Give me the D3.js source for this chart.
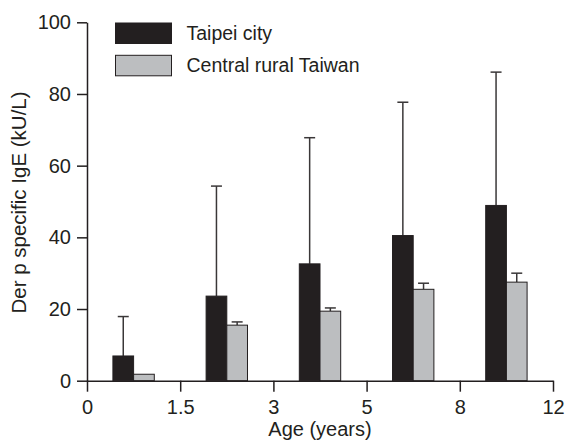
<!DOCTYPE html>
<html><head><meta charset="utf-8">
<script src="https://cdn.jsdelivr.net/npm/d3@7"></script>
<style>
body{margin:0;background:#fff;}
svg{display:block;}
text{font-family:"Liberation Sans",Arial,Helvetica,sans-serif;fill:#231f20;}
</style></head>
<body>
<svg id="chart" width="565" height="442"></svg>
<script>
const ageGroups = ["0-1.5","1.5-3","3-5","5-8","8-12"];
const tickLabels = ["0","1.5","3","5","8","12"];
const seriesNames = ["Taipei city","Central rural Taiwan"];
const taipeiMean = [6.9, 23.6, 32.6, 40.5, 48.9];
const taipeiUpper = [17.9, 54.3, 67.8, 77.7, 86.1];
const ruralMean = [1.8, 15.5, 19.4, 25.5, 27.5];
const ruralUpper = [1.8, 16.4, 20.3, 27.2, 30.0];
const yTicks = [0,20,40,60,80,100];

(function(){
const ink = "#231f20";
const colors = ["#231f20","#bcbec0"];

const svg = d3.select("#chart");
const pLeft = 87, pRight = 553, pTop = 22.3, pBottom = 380.7;

const y = d3.scaleLinear().domain([0,100]).range([pBottom, pTop]);
const xBand = d3.scaleBand().domain(ageGroups).range([pLeft, pRight]).padding(0);
const xTick = d3.scalePoint().domain(tickLabels).range([pLeft, pRight]);
const barW = xBand.bandwidth() * 0.222;

const series = [
  {name: seriesNames[0], mean: taipeiMean, upper: taipeiUpper, color: colors[0]},
  {name: seriesNames[1], mean: ruralMean, upper: ruralUpper, color: colors[1]}
];

series.forEach((s, si) => {
  const g = svg.append("g");
  ageGroups.forEach((a, i) => {
    const cx = xBand(a) + xBand.bandwidth()/2;
    const x0 = si === 0 ? cx - barW : cx;
    const xc = x0 + barW/2;
    if (s.upper[i] > s.mean[i] + 0.01) {
      g.append("line").attr("x1", xc).attr("x2", xc)
        .attr("y1", y(s.mean[i])).attr("y2", y(s.upper[i]))
        .attr("stroke", "#3a3738").attr("stroke-width", 1.5);
      g.append("line").attr("x1", xc - 5.5).attr("x2", xc + 5.5)
        .attr("y1", y(s.upper[i])).attr("y2", y(s.upper[i]))
        .attr("stroke", "#3a3738").attr("stroke-width", 1.5);
    }
    g.append("rect").attr("x", x0).attr("y", y(s.mean[i]))
      .attr("width", barW).attr("height", y(0) - y(s.mean[i]))
      .attr("fill", s.color).attr("stroke", ink).attr("stroke-width", 1);
  });
});

const yAxis = d3.axisLeft(y).tickValues(yTicks).tickSize(10).tickPadding(6).tickSizeOuter(0);
const yg = svg.append("g").attr("transform", `translate(${pLeft},0)`).call(yAxis);
const xAxis = d3.axisBottom(xTick).tickSize(11).tickPadding(8).tickSizeOuter(0);
const xg = svg.append("g").attr("transform", `translate(0,${pBottom})`).call(xAxis);
[yg, xg].forEach(g => {
  g.selectAll("path").attr("stroke", ink).attr("stroke-width", 1.5);
  g.selectAll("line").attr("stroke", ink).attr("stroke-width", 1.5);
  g.selectAll("text").style("font-size", "20px").attr("fill", ink)
    .style("font-family", '"Liberation Sans",Arial,sans-serif');
});

svg.append("text").attr("x", 320).attr("y", 436).attr("text-anchor", "middle")
  .style("font-size", "20px").text("Age (years)");
svg.append("text").attr("transform", "translate(26,202.5) rotate(-90)")
  .attr("text-anchor", "middle").style("font-size", "20.5px").text("Der p specific IgE (kU/L)");

const legend = svg.append("g");
series.forEach((s, i) => {
  const ly = 23 + i * 32.3;
  legend.append("rect").attr("x", 115.5).attr("y", ly).attr("width", 56).attr("height", 20.5)
    .attr("fill", s.color).attr("stroke", ink).attr("stroke-width", 1);
  legend.append("text").attr("x", 186.5).attr("y", ly + 17)
    .style("font-size", "19.5px").text(s.name);
});
})();
</script>
</body></html>
